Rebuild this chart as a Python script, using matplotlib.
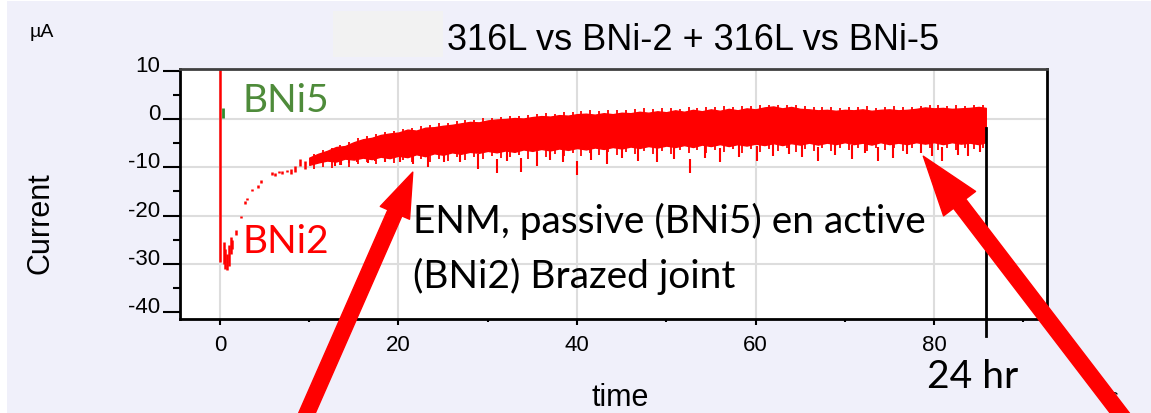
import matplotlib
matplotlib.use('Agg')
import matplotlib.pyplot as plt
from matplotlib.patches import Rectangle

plt.rcParams['axes.unicode_minus'] = False

W, H = 1151, 414

# early, sparse part of the BNi2 record: time (ks), low and high current (uA)
early_t = [0.0, 0.4, 0.6, 0.8, 1.0, 1.2, 1.4, 1.8, 2.3, 2.8, 3.0, 3.6, 4.3, 4.6,
           5.8, 6.2, 6.6, 7.0, 7.5, 8.0, 8.4, 9.0, 9.5]
early_lo = [-29.5, -30.0, -31.0, -31.2, -30.5, -28.0, -27.0, -24.0, -20.5, -17.5,
            -16.8, -15.0, -14.2, -13.2, -11.6, -11.8, -11.2, -11.4, -11.0, -11.4,
            -10.9, -9.7, -10.4]
early_hi = [12.0, -25.5, -27.0, -28.0, -26.0, -24.5, -25.0, -23.0, -20.0, -17.0,
            -16.3, -14.5, -13.6, -12.7, -11.0, -11.2, -10.7, -10.8, -10.5, -10.4,
            -9.7, -8.3, -8.6]

# dense noisy part: band edges read every 1 ks
band_t = list(range(10, 86)) + [85.8]
band_hi = [-8.0, -7.2, -6.6, -5.8, -5.6, -4.8, -4.2, -3.9,
           -3.3, -3.0, -2.8, -2.2, -2.4, -1.8, -1.7, -1.4, -1.2, -0.9,
           -0.6, -0.7, -0.3, -0.1, 0.0, 0.2, 0.1, 0.4, 0.6, 0.5,
           0.8, 0.7, 1.0, 1.1, 0.9, 1.2, 1.0, 1.3, 1.2, 1.5,
           1.3, 1.6, 1.4, 1.8, 1.5, 1.9, 1.6, 2.0, 1.7, 2.1,
           1.8, 2.2, 2.0, 2.4, 2.6, 2.2, 2.5, 2.1, 2.0, 1.8,
           1.9, 1.7, 1.9, 1.8, 2.0, 1.7, 1.9, 2.0, 1.8, 1.9,
           2.1, 2.4, 2.2, 2.3, 2.1, 2.2, 2.3, 2.5, 2.3]
band_lo = [-9.5, -9.0, -8.6, -8.8, -8.2, -8.4, -8.0, -8.3,
           -7.8, -8.1, -7.6, -7.9, -7.3, -7.7, -7.1, -7.4, -6.9, -7.2,
           -6.8, -7.0, -6.6, -6.9, -6.5, -6.8, -6.3, -6.6, -6.2, -6.5,
           -6.1, -6.4, -6.0, -6.3, -5.9, -6.2, -5.8, -6.1, -5.7, -6.0,
           -5.6, -5.9, -5.5, -5.8, -5.4, -5.8, -5.3, -5.6, -5.2, -5.6,
           -5.2, -5.5, -5.1, -5.4, -5.0, -5.4, -5.0, -5.3, -4.9, -5.3,
           -4.9, -5.2, -4.8, -5.2, -4.9, -5.3, -4.8, -5.2, -4.9, -5.2,
           -4.8, -5.1, -4.8, -5.2, -4.8, -5.1, -4.9, -5.2, -4.8]

# ragged edges between the 1 ks readings: low and high tips
edge_t = [x + 0.5 for x in range(10, 86)]
edge_lo = [-10.4, -9.9, -10.1, -9.6, -9.9, -9.3, -9.0, -9.4, -8.6,
           -9.1, -8.5, -8.8, -8.3, -8.9, -8.2, -8.6, -7.9, -8.5, -7.8,
           -8.3, -7.6, -8.1, -7.9, -7.4, -8.2, -7.3, -7.8, -7.2, -7.7,
           -7.0, -7.6, -7.1, -7.5, -6.9, -7.4, -6.8, -7.3, -6.7, -7.2,
           -6.6, -7.3, -6.5, -7.0, -6.4, -7.1, -6.5, -6.9, -6.3, -7.0,
           -6.2, -6.8, -6.3, -6.7, -6.1, -6.8, -6.2, -6.6, -6.0, -6.7,
           -6.1, -6.5, -6.0, -6.6, -6.1, -6.4, -6.0, -6.6, -6.1, -6.3,
           -5.9, -6.5, -6.0, -6.4, -5.9, -6.3, -6.1]
edge_hi = [-7.3, -6.5, -5.9, -5.3, -4.8, -4.0, -3.6, -3.2, -2.7,
           -2.5, -2.0, -1.8, -1.5, -1.3, -0.9, -0.9, -0.5, -0.2, -0.3,
           0.2, 0.3, 0.5, 0.6, 0.7, 0.9, 1.0, 1.2, 1.1, 1.4,
           1.5, 1.6, 1.8, 1.6, 1.8, 1.9, 1.8, 2.0, 2.2, 2.0,
           2.2, 2.3, 2.1, 2.4, 2.3, 2.5, 2.4, 2.6, 2.5, 2.7,
           2.6, 2.8, 2.9, 3.0, 2.8, 2.9, 2.6, 2.5, 2.4, 2.5,
           2.3, 2.5, 2.4, 2.6, 2.3, 2.5, 2.6, 2.4, 2.5, 2.7,
           2.9, 2.8, 2.7, 2.8, 2.7, 2.8, 2.9]

# deep downward spikes below the band
spike_t = [12.9, 13.6, 14.4, 15.3, 16.6, 17.4, 18.5, 20.2, 21.6, 23.3, 25.1, 26.9,
           28.9, 31.0, 32.2, 33.7, 35.5, 37.0, 38.4, 40.0, 41.6, 43.4, 45.0, 46.8,
           49.0, 50.9, 52.7, 54.3, 56.0, 58.1, 60.2, 62.0, 63.8, 65.2, 67.0, 68.9,
           70.8, 72.3, 73.7, 75.4, 77.0, 78.5, 79.8, 80.9, 82.7, 83.8, 85.1]
spike_v = [-9.7, -9.5, -9.2, -9.0, -9.1, -8.7, -8.9, -9.0, -9.3, -9.9, -8.8, -8.9,
           -10.3, -11.2, -8.6, -11.0, -9.8, -8.5, -9.0, -11.6, -8.4, -9.3, -8.0, -8.6,
           -9.0, -8.2, -11.2, -8.1, -9.0, -7.9, -8.6, -7.6, -7.2, -7.9, -8.7, -7.4,
           -8.3, -7.1, -8.7, -8.1, -7.3, -7.0, -7.7, -8.7, -7.5, -7.6, -6.9]

# BNi5 record (only a short blip near t = 0)
bni5_t = [0.35]
bni5_lo = [0.2]
bni5_hi = [2.3]

end_t = 85.8  # 24 hr marker

fig = plt.figure(figsize=(W / 100, H / 100), dpi=100, facecolor='white')
fig.add_artist(Rectangle((7 / W, 0), 1 - 7 / W, 1 - 2 / H, transform=fig.transFigure,
                         facecolor='#F0F0FA', edgecolor='none', zorder=-10))
fig.add_artist(Rectangle((333 / W, 1 - 58 / H), 110 / W, 46 / H, transform=fig.transFigure,
                         facecolor='#F2F2F2', edgecolor='none', zorder=-9))

ax = fig.add_axes([180 / W, 1 - 320 / H, 867 / W, 250 / H])
ax.set_facecolor('white')
ax.set_xlim(-4.48, 92.66)
ax.set_ylim(-41.4, 10.35)

# grid only at the major positions inside the data range
for gx in [0, 20, 40, 60, 80]:
    ax.axvline(gx, color='#DDDDDD', lw=1.5, zorder=0)
for gy in [0, -10, -20, -30]:
    ax.axhline(gy, color='#DDDDDD', lw=1.5, zorder=0)

red = '#FF0000'
ax.fill_between(band_t, band_lo, band_hi, color=red, lw=1.0, zorder=2)
ax.vlines(edge_t, edge_lo, edge_hi, color=red, lw=1.3, zorder=2)
ax.vlines(spike_t, spike_v, [v + 3 for v in spike_v], color=red, lw=1.5, zorder=2)
ax.vlines(early_t, early_lo, early_hi, color=red, lw=1.8, zorder=2)
ax.vlines(bni5_t, bni5_lo, bni5_hi, color='#2E8B2E', lw=2, zorder=2)
ax.plot([end_t, end_t], [-1.9, -45.0], color='black', lw=2, clip_on=False, zorder=3)

for s in ['left', 'bottom', 'right']:
    ax.spines[s].set_color('black')
    ax.spines[s].set_linewidth(2)
ax.spines['top'].set_color('#404040')
ax.spines['top'].set_linewidth(2)

tick_font = 'Liberation Sans'
ax.set_xticks([0, 20, 40, 60, 80])
ax.set_xticks([10, 30, 50, 70, 90], minor=True)
ax.set_yticks([10, 0, -10, -20, -30, -40])
ax.set_yticks([5, -5, -15, -25, -35], minor=True)
ax.tick_params(axis='x', which='major', direction='out', length=4, width=1.5, pad=7, labelsize=16)
ax.tick_params(axis='x', which='minor', direction='out', length=2.5, width=1.5)
ax.tick_params(axis='y', which='major', direction='out', length=12, width=1.5, pad=2, labelsize=16)
ax.tick_params(axis='y', which='minor', direction='out', length=5, width=1.5)
for lab in ax.get_xticklabels() + ax.get_yticklabels():
    lab.set_fontfamily(tick_font)
for lab in ax.get_yticklabels():
    lab.set_verticalalignment('baseline')

# arrows pointing at the noise band
ax.annotate('', xy=(21.6, -11.0), xycoords='data', xytext=(300, -16), textcoords='figure pixels',
            arrowprops=dict(arrowstyle='simple,head_length=32,head_width=23,tail_width=11',
                            color=red, mutation_scale=1, shrinkA=0, shrinkB=0), zorder=10)
ax.annotate('', xy=(78.8, -7.7), xycoords='data', xytext=(1132, -16), textcoords='figure pixels',
            arrowprops=dict(arrowstyle='simple,head_length=43,head_width=29,tail_width=11',
                            color=red, mutation_scale=1, shrinkA=0, shrinkB=0), zorder=10)


def px(x, y):
    return x / W, 1 - y / H


fig.text(*px(447, 50), '316L vs BNi-2 + 316L vs BNi-5', fontsize=26, family=tick_font,
         va='baseline', ha='left')
fig.text(*px(30, 37), 'µA', fontsize=14, family=tick_font, va='baseline', ha='left')
fig.text(*px(40, 223), 'Current', fontsize=22, family=tick_font, rotation=90,
         va='center', ha='center')
fig.text(*px(620, 398), 'time', fontsize=22, family=tick_font, va='center', ha='center')
fig.text(*px(1100, 402), 'ks', fontsize=14, family=tick_font, va='baseline', ha='left', zorder=-1)

note_font = 'Lato'
fig.text(*px(243, 112), 'BNi5', fontsize=28, family=note_font, color='#4E8B3A', va='baseline')
fig.text(*px(243, 253), 'BNi2', fontsize=28, family=note_font, color=red, va='baseline')
fig.text(*px(413, 233), 'ENM, passive (BNi5) en active', fontsize=28, family=note_font,
         va='baseline')
fig.text(*px(413, 288), '(BNi2) Brazed joint', fontsize=28, family=note_font, va='baseline')
fig.text(*px(927, 388), '24 hr', fontsize=28, family=note_font, va='baseline')

fig.savefig('out.png', dpi=100, facecolor=fig.get_facecolor())
